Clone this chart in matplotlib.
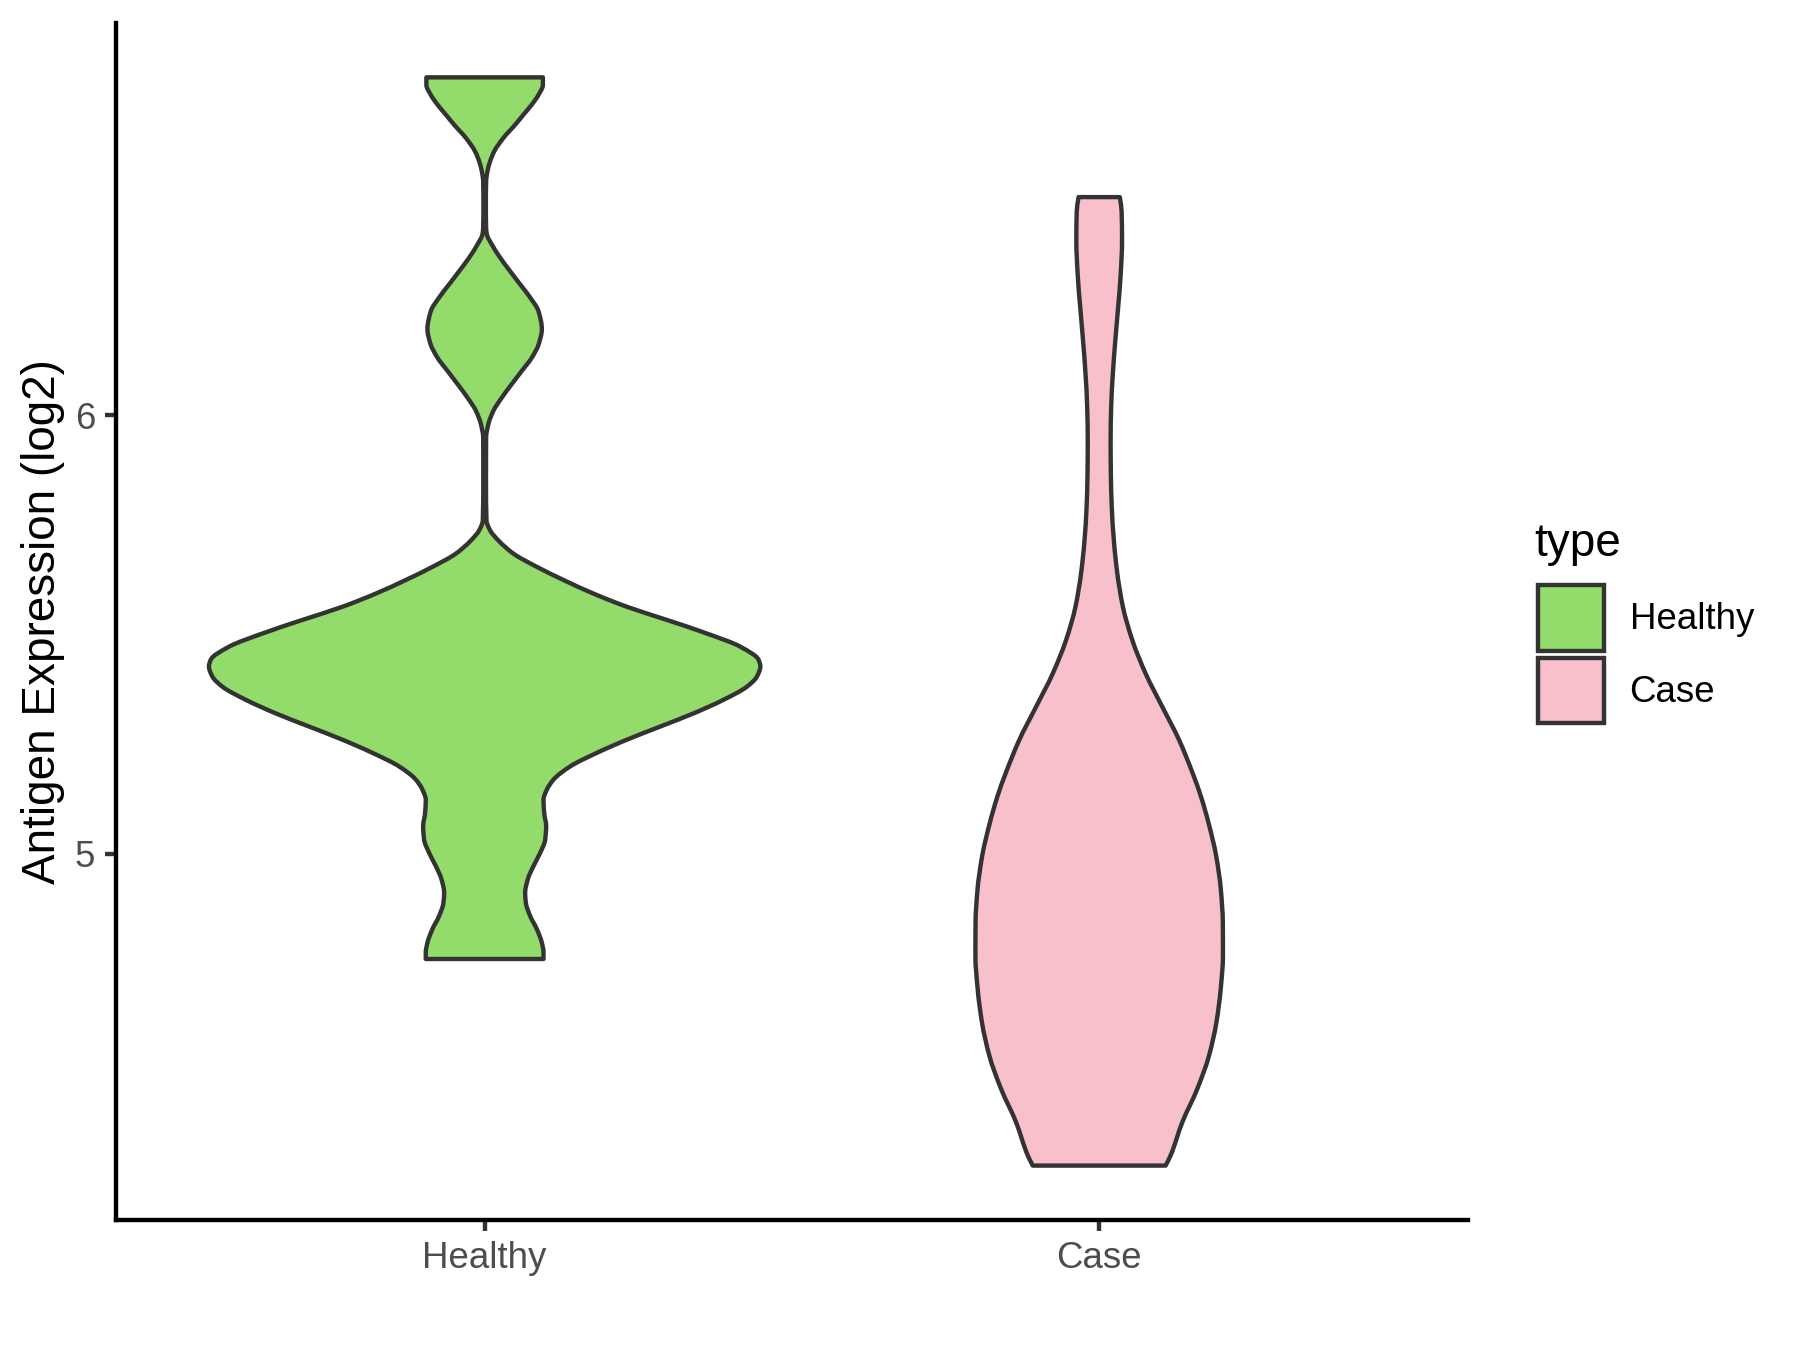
"""Violin plot: antigen expression (log2), Healthy vs Case.

Outline half-widths were read off the reference at a set of heights and are
drawn as a smooth (monotone cubic) closed path, like ggplot's geom_violin.
"""

import matplotlib

matplotlib.use("Agg")
import matplotlib.pyplot as plt
import numpy as np
from matplotlib.patches import Patch, PathPatch
from matplotlib.path import Path

OUT = "out.png"

GROUPS = ["Healthy", "Case"]
COLORS = ["#93DB6B", "#F7C0CB"]
EDGE = "#333333"

# (expression, half-width in category units), bottom -> top
HEALTHY_Y = [4.760, 4.775, 4.797, 4.828, 4.858, 4.888, 4.911, 4.942, 4.972, 5.002,
             5.032, 5.063, 5.093, 5.123, 5.146, 5.169, 5.199, 5.230, 5.260, 5.290,
             5.320, 5.351, 5.381, 5.404, 5.427, 5.442, 5.472, 5.502, 5.533, 5.563,
             5.593, 5.624, 5.654, 5.684, 5.714, 5.737, 5.760, 5.850, 5.949, 5.980,
             6.010, 6.040, 6.071, 6.101, 6.131, 6.162, 6.196, 6.237, 6.268, 6.298,
             6.328, 6.359, 6.389, 6.412, 6.427, 6.480, 6.533, 6.556, 6.579, 6.601,
             6.632, 6.662, 6.685, 6.708, 6.730, 6.753, 6.770]
HEALTHY_HW = [0.0958, 0.0958, 0.0931, 0.0850, 0.0741, 0.0671, 0.0659, 0.0703, 0.0795, 0.0904,
              0.0985, 0.1001, 0.0969, 0.0958, 0.1012, 0.1121, 0.1392, 0.1827, 0.2315, 0.2858,
              0.3400, 0.3888, 0.4269, 0.4431, 0.4486, 0.4458, 0.4160, 0.3617, 0.2966, 0.2315,
              0.1772, 0.1284, 0.0850, 0.0470, 0.0225, 0.0090, 0.0030, 0.0022, 0.0024, 0.0062,
              0.0143, 0.0280, 0.0443, 0.0606, 0.0768, 0.0880, 0.0931, 0.0876, 0.0741, 0.0578,
              0.0415, 0.0252, 0.0117, 0.0036, 0.0024, 0.0020, 0.0024, 0.0046, 0.0090, 0.0155,
              0.0306, 0.0497, 0.0632, 0.0768, 0.0876, 0.0948, 0.0948]

CASE_Y = [4.289, 4.312, 4.388, 4.464, 4.539, 4.615, 4.691, 4.767, 4.843, 4.918,
          4.994, 5.070, 5.131, 5.184, 5.260, 5.335, 5.411, 5.487, 5.563, 5.639,
          5.714, 5.790, 5.866, 5.942, 6.018, 6.093, 6.169, 6.245, 6.321, 6.397,
          6.465, 6.497]
CASE_HW = [0.1081, 0.1162, 0.1353, 0.1597, 0.1786, 0.1907, 0.1977, 0.2014, 0.2012, 0.1980,
           0.1905, 0.1780, 0.1655, 0.1520, 0.1298, 0.1027, 0.0755, 0.0539, 0.0386, 0.0295,
           0.0239, 0.0205, 0.0190, 0.0186, 0.0195, 0.0222, 0.0262, 0.0308, 0.0350, 0.0372,
           0.0365, 0.0335]

Y_TICKS = [5, 6]


def pchip_slopes(y, w):
    """Fritsch-Carlson slopes dw/dy, so the outline never overshoots."""
    h = np.diff(y)
    d = np.diff(w) / h
    m = np.zeros_like(w)
    m[0], m[-1] = d[0], d[-1]
    for k in range(1, len(w) - 1):
        if d[k - 1] * d[k] <= 0:
            continue
        w1 = 2 * h[k] + h[k - 1]
        w2 = h[k] + 2 * h[k - 1]
        m[k] = (w1 + w2) / (w1 / d[k - 1] + w2 / d[k])
    return m


def side_segments(center, ys, hws, sign):
    y = np.asarray(ys, float)
    w = np.asarray(hws, float)
    m = pchip_slopes(y, w)
    segs = []
    for k in range(len(y) - 1):
        h = y[k + 1] - y[k]
        p0 = (center + sign * w[k], y[k])
        c1 = (center + sign * (w[k] + m[k] * h / 3), y[k] + h / 3)
        c2 = (center + sign * (w[k + 1] - m[k + 1] * h / 3), y[k + 1] - h / 3)
        p3 = (center + sign * w[k + 1], y[k + 1])
        segs.append((p0, c1, c2, p3))
    return segs


def violin_path(center, ys, hws):
    right = side_segments(center, ys, hws, 1)
    left = side_segments(center, ys, hws, -1)
    verts = [right[0][0]]
    codes = [Path.MOVETO]
    for _, c1, c2, p3 in right:
        verts += [c1, c2, p3]
        codes += [Path.CURVE4] * 3
    verts.append(left[-1][3])
    codes.append(Path.LINETO)
    for p0, c1, c2, _ in reversed(left):
        verts += [c2, c1, p0]
        codes += [Path.CURVE4] * 3
    verts.append(right[0][0])
    codes.append(Path.CLOSEPOLY)
    return Path(np.array(verts), codes)


def main():
    plt.rcParams["font.family"] = ["Liberation Sans", "DejaVu Sans"]
    fig = plt.figure(figsize=(12, 9), dpi=150)
    ax = fig.add_axes([0.0644, 0.0963, 0.7511, 0.8867])

    profiles = [(HEALTHY_Y, HEALTHY_HW), (CASE_Y, CASE_HW)]
    for i, (ys, hws) in enumerate(profiles):
        ax.add_patch(
            PathPatch(
                violin_path(i + 1, ys, hws),
                facecolor=COLORS[i],
                edgecolor=EDGE,
                lw=2.1,
                joinstyle="round",
            )
        )

    lo = min(CASE_Y[0], HEALTHY_Y[0])
    hi = max(CASE_Y[-1], HEALTHY_Y[-1])
    pad = 0.05 * (hi - lo)
    ax.set_ylim(lo - pad, hi + pad)
    ax.set_xlim(0.4, 2.6)

    ax.set_xticks([1, 2], GROUPS)
    ax.set_yticks(Y_TICKS, [str(t) for t in Y_TICKS])
    ax.tick_params(
        length=5.5, width=2.1, color=EDGE, labelcolor="#4D4D4D",
        labelsize=17.6, pad=4.4,
    )
    for s in ("top", "right"):
        ax.spines[s].set_visible(False)
    for s in ("left", "bottom"):
        ax.spines[s].set_linewidth(2.1)
        ax.spines[s].set_color("black")

    ax.set_ylabel("Antigen Expression (log2)", fontsize=22, color="black", labelpad=4.6)

    # legend: title drawn on its own so the gap to the keys matches ggplot
    fig.text(0.8522, 0.597, "type", fontsize=22, ha="left", va="center")
    handles = [
        Patch(facecolor=c, edgecolor=EDGE, linewidth=2.1, label=g)
        for g, c in zip(GROUPS, COLORS)
    ]
    ax.legend(
        handles=handles,
        loc="upper left",
        bbox_to_anchor=(0.8544, 0.5663),
        bbox_transform=fig.transFigure,
        frameon=False,
        borderpad=0,
        borderaxespad=0,
        handlelength=1.8,
        handleheight=2.36,
        handletextpad=0.7,
        labelspacing=0.2,
        fontsize=17.6,
    )

    fig.savefig(OUT, dpi=150)


if __name__ == "__main__":
    main()
